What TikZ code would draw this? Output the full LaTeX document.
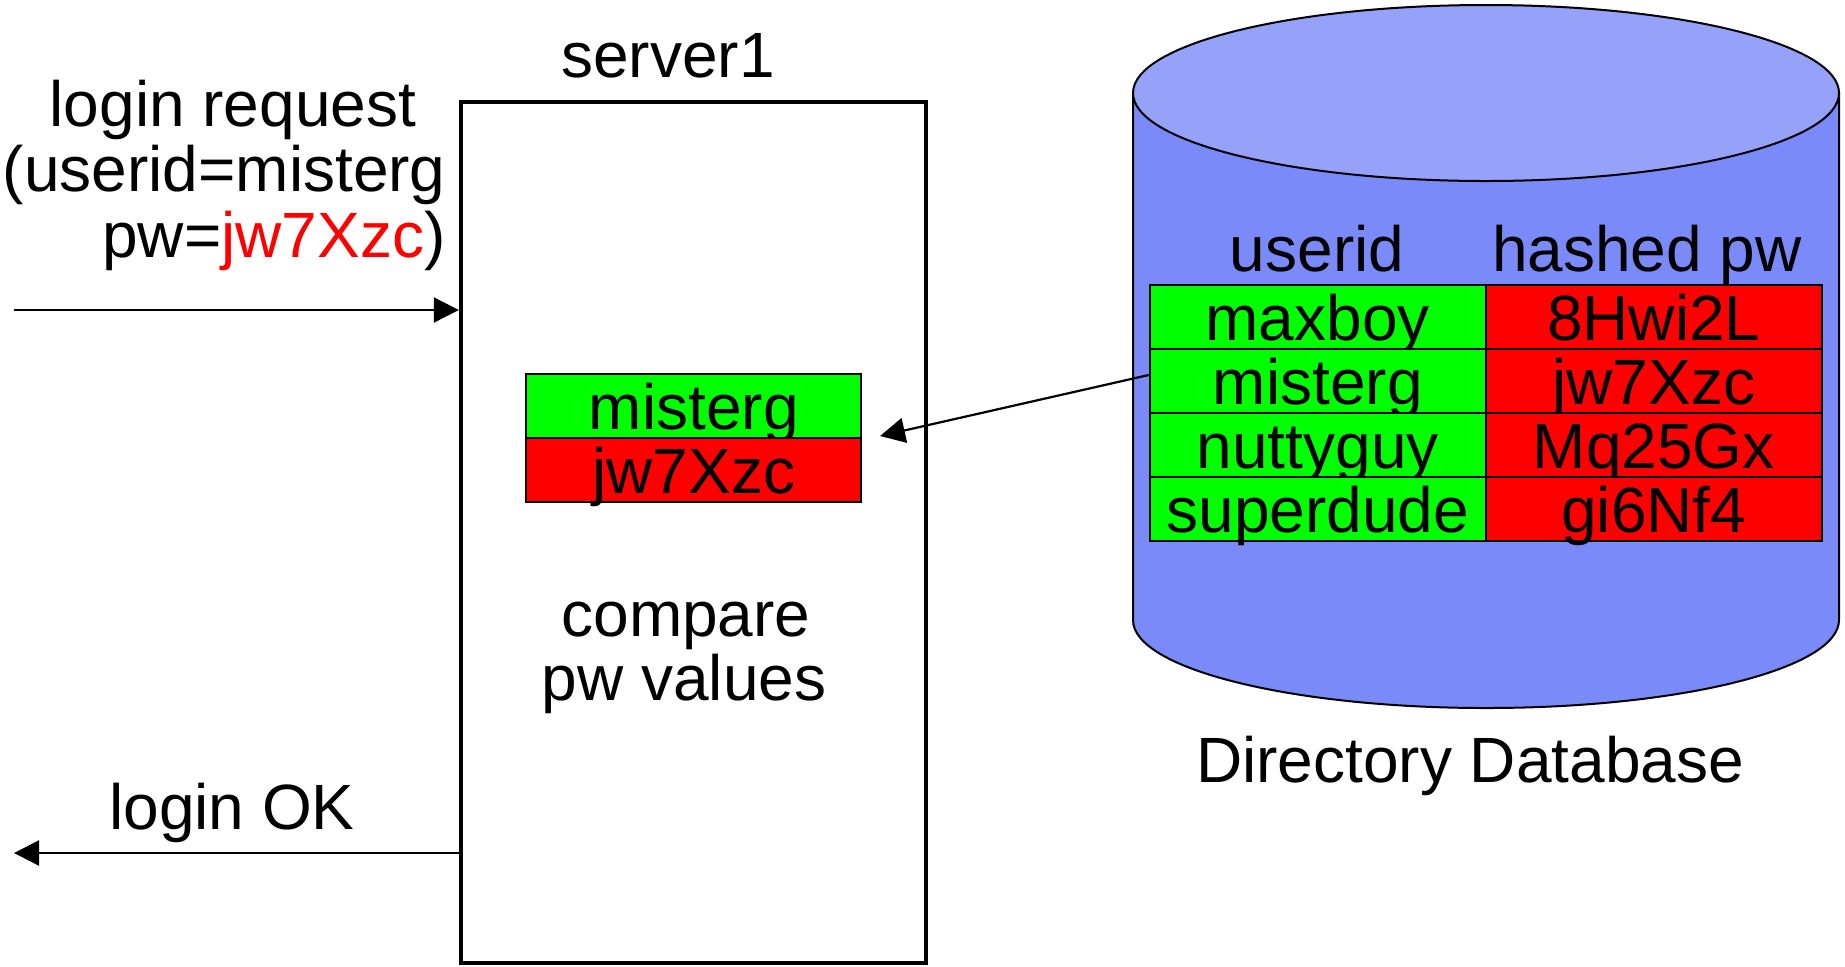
\documentclass[tikz,border=0pt]{standalone}
\usepackage{fontspec}
\setmainfont{Liberation Sans}
\usetikzlibrary{arrows.meta}
\definecolor{dbtop}{RGB}{150,161,250}
\definecolor{dbbody}{RGB}{122,138,248}
\definecolor{cellgreen}{RGB}{0,255,0}
\definecolor{cellred}{RGB}{255,0,0}

\begin{document}
\begin{tikzpicture}[x=0.5pt,y=-0.5pt,
  every node/.style={font=\fontsize{32}{33}\selectfont},
  txt/.style={inner sep=0pt, anchor=base},
  txtr/.style={inner sep=0pt, anchor=base east},
  cell/.style={draw, line width=1pt, minimum width=168pt, minimum height=32pt,
    inner xsep=0pt, inner ysep=0pt, text height=27.5pt, text depth=4.5pt},
  ucell/.style={cell, fill=cellgreen},
  pcell/.style={cell, fill=cellred},
  flow/.style={line width=1.1pt, -{Triangle[length=12.5pt,width=12.5pt]}},
]
% canvas
\fill[white] (0,0) rectangle (1845,966);
\useasboundingbox (0,0) rectangle (1845,966);

% server
\node[draw, line width=2.2pt, minimum width=232.5pt, minimum height=430.5pt,
  inner sep=0pt] (server) at (693.5,532.5) {};
\node[txt] (srvname) at (668,77) {server1};

% values fetched for the user
\node[ucell, minimum width=167.5pt] (su) at (693.7,406) {misterg};
\node[pcell, minimum width=167.5pt] (sp) at (693.7,470) {jw7Xzc};

\node[txt] (cmp1) at (686,636) {compare};
\node[txt] (cmp2) at (684,700) {pw values};

% request and reply
\node[txtr] (lr1) at (416.5,126) {login request};
\node[txtr] (lr2) at (446,191) {(userid=misterg};
\node[txtr] (lr3) at (446,257) {pw={\color{cellred}jw7Xzc})};
\coordinate (inS) at (14,310);
\draw[flow] (inS) -- (inS -| server.west);

\node[txt] (ok) at (232,829) {login OK};
\coordinate (outE) at (14,853);
\draw[flow] (outE -| server.west) -- (outE);

% directory database cylinder
\path[fill=dbbody, draw, line width=1pt] (1133,93) -- (1133,620)
  arc[start angle=180, end angle=360, x radius=176.5pt, y radius=44pt]
  -- (1839,93) -- cycle;
\draw[fill=dbtop, line width=1pt] (1486,93) ellipse [x radius=176.5pt, y radius=44pt];
\node[txt] (dbname) at (1470,782) {Directory Database};

% user table
\node[txt] (hu) at (1317,271) {userid};
\node[txt] (hp) at (1647,271) {hashed pw};
\node[ucell] (u1) at (1317.7,317) {maxboy};
\node[ucell] (u2) at (1317.7,381) {misterg};
\node[ucell] (u3) at (1317.7,445) {nuttyguy};
\node[ucell] (u4) at (1317.7,509) {superdude};
\node[pcell] (p1) at (1653.7,317) {8Hwi2L};
\node[pcell] (p2) at (1653.7,381) {jw7Xzc};
\node[pcell] (p3) at (1653.7,445) {Mq25Gx};
\node[pcell] (p4) at (1653.7,509) {gi6Nf4};

% lookup
\coordinate (pwtip) at (880,436);
\draw[flow] ([yshift=3pt]u2.west) -- (pwtip);
\end{tikzpicture}
\end{document}
